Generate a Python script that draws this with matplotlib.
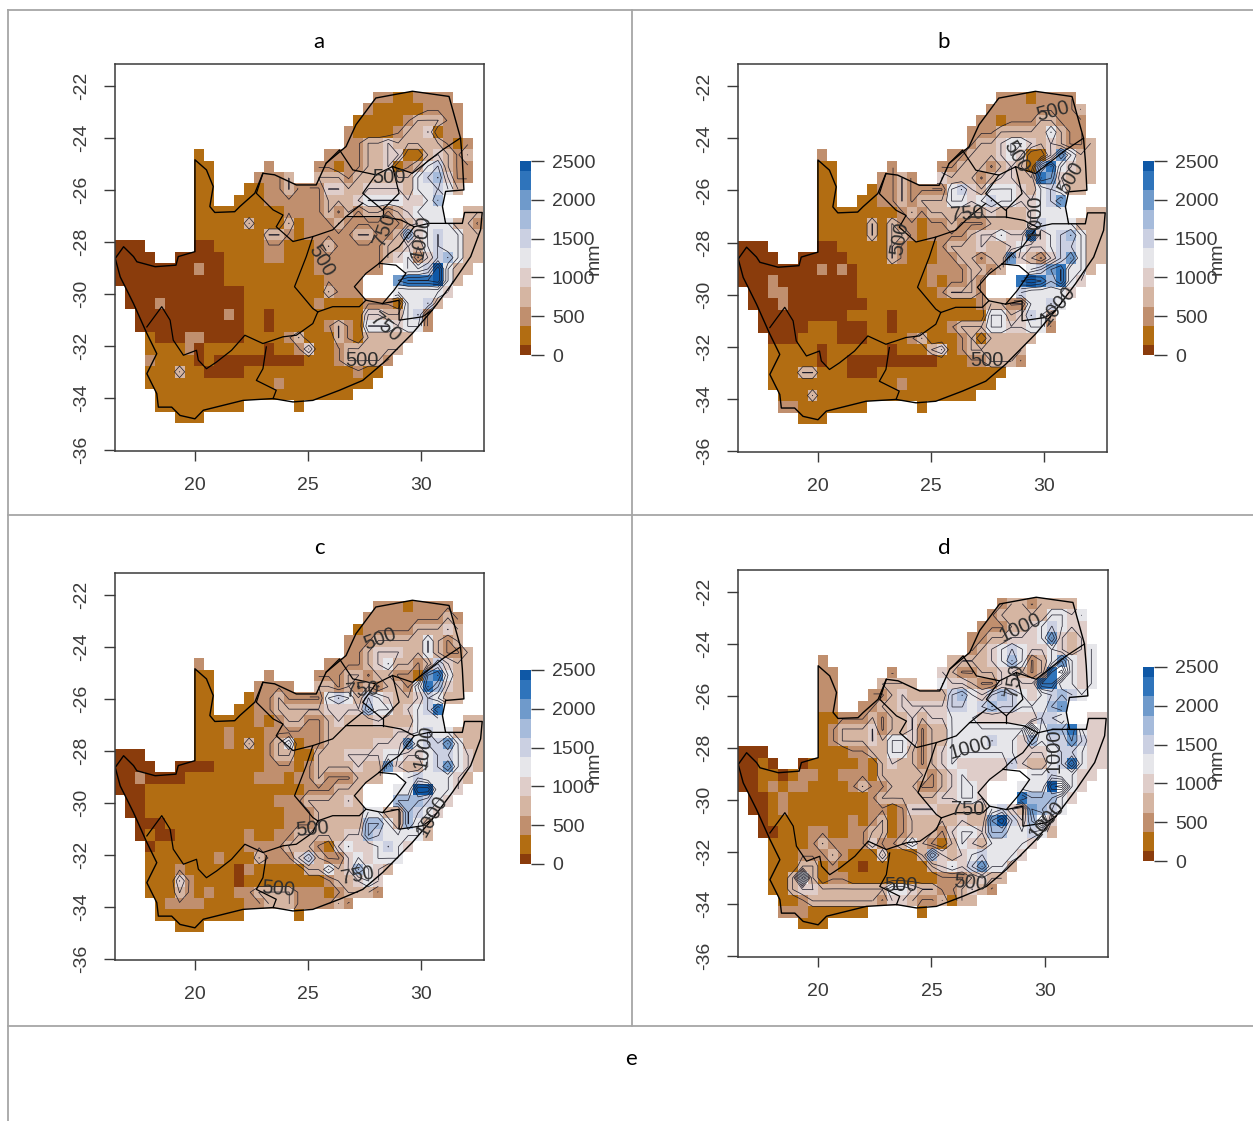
import numpy as np
import matplotlib
matplotlib.use("Agg")
from matplotlib import pyplot as plt
from matplotlib.colors import ListedColormap, BoundaryNorm
from matplotlib.lines import Line2D

W, H = 1253, 1121
plt.rcParams['font.family'] = ['Liberation Sans', 'DejaVu Sans']

# one character per grid cell, 0-9 and A are the colour classes of the legend,
# x is above the scale (drawn white), . is no data
rows_a = [
"..........................22112222",
".........................2111112222",
"........................11111233322",
".......................211112334122",
".......................2233433333212",
"........1............222233441134323",
"........11.....2....2212233412356322",
"........11....2223..3332333333567422",
"........11...1122322244334444355653",
"........11..111222222333455554457",
"........1111111112222323233234555..33",
"........11111311131222322222234555332",
"........11111113321222223322374565533",
"000.....00111112211123222223343565533",
"0000..0000011112211122222223452467533",
"000000002001111111112222222..556A533",
"0000000000011111111112222...8999A53",
".00000000000011111111322 2...555554",
".00020000000011111112111122215563",
"..000000000201101111111114433562",
"..000000000001101111123215554552",
"...100022000011112311132133333",
"...11112011111101124112333333",
"...2111101000000000111233332",
"...111311000011111111111211",
"...11111111111112111111111",
"....11111111111111111111",
"....111111111.....1",
"......111",
]
rows_a[17] = ".0000000000001111111132 22...555554"[:23] + "22...555554"

rows_b = [
"..........................22212222",
".........................2222222223",
"........................22122233222",
".......................222333335322",
".......................2334554343223",
"........2............223334541148533",
"........11.....2....2233323431795433",
"........11....2232..4333234433984333",
"........11...1223222256435554356533",
"........11..112232333554565544568",
"........1111111123233333343334555..33",
"........11111313221223222333346555333",
"........11111313321222234454494567533",
"000.....00111113211123334334544566533",
"0000..0000011113211122332338432468533",
"000000002020111111122223323..5689553",
"0002000000001111111212232...9A97954",
".002200000001111111123332...655554",
".00020000000011111111111233225565",
"..0000000001111011111111155346 53",
"..000001110001101111123335544552",
"...000111100011112311123133333",
"...11111011111101113412333333",
"...1111101100000000011122 3332",
"...111331110001111111111111",
"...11111111111112111111111",
"....11131111111111111111",
"....221111111.....1",
"......111",
]
rows_b = [r.replace(" ", "") for r in rows_b]

rows_c = [
"..........................22212222",
".........................2222222232",
"........................12222233343",
".......................222333335323",
".......................2234443353223",
"........2............222234533236433",
"........11.....2....2223323322189533",
"........11....2222..3323232332597433",
"........11...1223222256536543346533",
"........11..112233333444475534569",
"........1111112123322343334333555..33",
"........11121112222223333333445655333",
"........11121312351223333344485668533",
"000.....11111112331133344445544566543",
"0000..0000111112221233334338433568543",
"002000011111112221223222333..5655543",
"0001111111111111111222333...55AA554",
".0011111111111112223 33343...777654",
".00111111111111112223333355337654",
"..000111111111111222333337753753",
"..010011111112112233333447655553",
"...011111111122223332145445654",
"...11111112111322246322454555",
"...1112111110211111335347543",
"...111421111011111111233454",
"...11132121122333322212 3332",
"....12222111122333222232",
"....111111111.....1",
"......111",
]
rows_c = [r.replace(" ", "") for r in rows_c]

rows_d = [
"..........................23323333",
".........................2333335545",
"........................22233456544",
".......................223344458434",
".......................2345654454345",
"........2............333345752358545",
"........22.....2....432233443239x545",
"........22....3333..5443224444995545",
"........22...2234333367546765456765",
"........22..223344444665676655578",
"........1122232334344555444444665..44",
"........123334233423355555555x5779544",
"........12333435542335555655475668644",
"000.....11122335532345555555444566544",
"0010..0111112134332345444446433569544",
"001101221122213333323454444..5565544",
"0012122111123223332234554...555Ax54",
".001211111111233333344554...977754",
".00121111111122124443333356438765",
"..011111111212312333334338A647x4",
"..001112211223312333245547755653",
"...111123222242235321354355554",
"...11122232111411137434565554",
"...1113312110111111345468553",
"...113x31221111111112223433",
"...11344333333355433223432",
"....11233333332443223133",
"....222111111.....1",
"......111",
]

panel_rows = [rows_a, rows_b, rows_c, rows_d]

class_codes = "0123456789A"
class_mm = [60, 250, 470, 760, 1010, 1260, 1510, 1760, 2010, 2260, 2440]
over_mm = 2620
class_colors = ['#8a3c0c', '#b26d12', '#c08f6e', '#d5b5a2', '#dfcdc9', '#e6e6ea',
                '#cbd0e2', '#a6bbdb', '#6f9acb', '#2f74bb', '#0f58a6']
class_edges = [0, 125, 375, 625, 875, 1125, 1375, 1625, 1875, 2125, 2375, 2500]

cell = 0.44
lon0 = 16.46
lat0 = -22.22

xticks = [20, 25, 30]
yticks = [-22, -24, -26, -28, -30, -32, -34, -36]
bar_ticks = [0, 500, 1000, 1500, 2000, 2500]

# contour label text, lon, lat, rotation
labels_a = [("500", 25.6, -28.7, -60), ("750", 28.4, -27.5, 70), ("1000", 30.0, -27.8, 80),
            ("750", 28.45, -31.3, -40), ("500", 27.4, -32.55, 0), ("500", 28.6, -25.5, 0)]
labels_b = [("500", 30.4, -22.97, 15), ("500", 28.8, -24.7, -60), ("750", 26.6, -26.9, 5),
            ("500", 23.6, -27.85, 80), ("1000", 29.6, -27.0, 90), ("1000", 30.6, -30.4, 50),
            ("500", 27.5, -32.55, 0), ("500", 31.2, -25.5, 60)]
labels_c = [("500", 28.2, -23.7, 20), ("750", 27.4, -25.64, 5), ("1000", 30.15, -27.83, 80),
            ("1000", 30.5, -30.5, 60), ("500", 25.2, -31.0, 5), ("750", 27.2, -32.8, 10),
            ("500", 23.7, -33.3, -5)]
labels_d = [("1000", 28.95, -23.35, 25), ("1000", 26.75, -28.0, 15), ("750", 26.6, -30.37, 0),
            ("1000", 30.4, -28.1, 90), ("1000", 30.1, -30.8, 50), ("500", 26.7, -33.2, -5),
            ("500", 23.66, -33.3, 0), ("750", 28.65, -25.4, 80)]
panel_labels = [labels_a, labels_b, labels_c, labels_d]

# country and province lines, degrees
border_lon = [16.47,16.84,17.28,17.43,18.24,19.16,19.26,20.0,20.0,20.51,20.81,20.66,20.88,21.76,21.99,22.65,
              23.01,23.53,24.49,25.37,25.81,26.69,27.13,28.01,29.63,31.25,31.76,31.84,31.91,31.10,30.96,31.10,
              31.84,31.94,32.72,32.65,32.21,31.40,30.51,29.63,28.31,27.43,26.40,25.22,24.34,23.46,22.13,20.37,
              20.0,19.34,18.97,18.38,18.31,17.87,18.31,17.87,17.28,16.69,16.47]
border_lat = [-28.63,-28.18,-28.56,-28.76,-28.95,-28.89,-28.56,-28.37,-24.83,-25.22,-25.86,-26.63,-26.86,-26.83,-26.63,-26.12,
              -25.35,-25.41,-25.80,-25.80,-24.96,-24.32,-23.48,-22.45,-22.19,-22.39,-23.99,-24.83,-25.99,-26.05,-26.63,-27.28,
              -27.28,-26.86,-26.86,-27.53,-28.56,-29.59,-30.62,-31.52,-32.68,-33.33,-33.71,-34.10,-34.16,-34.03,-34.10,-34.48,
              -34.81,-34.68,-34.36,-34.36,-33.84,-33.07,-32.30,-31.52,-30.37,-29.34,-28.63]
province_lons = [
    [17.87,18.53,18.90,19.04,19.49,20.07,20.15,20.51,20.96,21.62,22.21,23.01,23.90,24.49,25.22,25.44],
    [23.16,23.01,22.72,23.60,23.46],
    [25.44,25.22,24.41,24.93,25.22,26.10,26.69,28.31,29.12,29.71,30.37,31.10],
    [29.71,29.04,28.60,28.16],
    [28.16,28.90,29.34,28.82,28.31,27.57,27.06,27.57,28.16],
    [25.44,26.10,27.28,27.57],
    [28.31,29.04,29.04,30.07,30.51],
    [23.01,22.72,23.46,23.90,23.60,24.34,25.22],
    [25.81,26.40,26.99,28.01,28.75],
    [28.75,29.63,30.96,31.76],
    [28.01,27.43,28.31,29.04,28.75],
    [28.31,28.31],
    [26.69,27.43],
]
province_lats = [
    [-31.27,-30.49,-31.01,-31.78,-32.36,-32.17,-32.55,-32.88,-32.62,-32.17,-31.59,-31.91,-31.65,-31.59,-31.14,-30.69],
    [-32.04,-32.88,-33.33,-33.71,-34.03],
    [-30.69,-30.56,-29.72,-28.56,-27.79,-27.53,-27.02,-27.02,-27.15,-27.41,-27.28,-27.28],
    [-27.41,-28.18,-28.44,-28.82],
    [-28.82,-28.89,-29.21,-29.85,-30.37,-30.24,-29.72,-29.21,-28.82],
    [-30.69,-30.49,-30.49,-30.24],
    [-30.37,-30.24,-31.01,-30.88,-30.62],
    [-25.35,-26.12,-26.76,-26.96,-27.41,-27.98,-27.79],
    [-24.96,-24.45,-25.22,-25.41,-25.09],
    [-25.09,-25.35,-24.45,-23.99],
    [-25.41,-26.12,-26.76,-26.12,-25.09],
    [-26.76,-27.02],
    [-27.02,-26.5],
]

# pixel boxes: left, top, right, bottom
map_boxes = [(115, 64, 484, 451), (738, 64, 1107, 452), (115, 573, 484, 960), (738, 570, 1108, 957)]
bar_boxes = [(520, 161, 531, 355), (1143, 161, 1154, 355), (520, 670, 531, 864), (1143, 667, 1154, 861)]
title_xy = [(319, 42), (944, 42), (319, 548), (944, 548), (631, 1059)]
title_txt = ['a', 'b', 'c', 'd', 'e']
rule_h = [(8, 1253, 10), (8, 1253, 515), (8, 1253, 1026)]
rule_v = [(8, 10, 1121), (632, 10, 1026)]


def px_axes(fig, box):
    l, t, r, b = box
    return fig.add_axes([l / W, 1 - b / H, (r - l) / W, (b - t) / H])


def decode(rows):
    grid = np.full((len(rows), 37), np.nan)
    for j, row in enumerate(rows):
        for i, ch in enumerate(row[:37]):
            if ch == 'x':
                grid[j, i] = over_mm
            elif ch in class_codes:
                grid[j, i] = class_mm[class_codes.index(ch)]
    return grid


cmap = ListedColormap(class_colors)
cmap.set_over('white')
cmap.set_bad((1, 1, 1, 0))
norm = BoundaryNorm(class_edges, cmap.N)
grey = '#3a3a3a'

fig = plt.figure(figsize=(W / 100, H / 100), dpi=100)

for i in range(4):
    ax = px_axes(fig, map_boxes[i])
    grid = np.ma.masked_invalid(decode(panel_rows[i]))
    lon_e = lon0 + cell * np.arange(38)
    lat_e = lat0 - cell * np.arange(30)
    lon_c = lon_e[:-1] + cell / 2
    lat_c = lat_e[:-1] - cell / 2
    ax.pcolormesh(lon_e, lat_e, grid, cmap=cmap, norm=norm, shading='flat')
    ax.contour(lon_c, lat_c, grid, levels=np.arange(500, 2750, 250), colors='#1c1c2a', linewidths=0.5)
    ax.plot(border_lon, border_lat, color='black', lw=1.0)
    for xs, ys in zip(province_lons, province_lats):
        ax.plot(xs, ys, color='black', lw=0.9)
    for txt, x, y, rot in panel_labels[i]:
        ax.text(x, y, txt, fontsize=14.5, color='#2e2e2e', rotation=rot, ha='center', va='center')
    ax.set_xlim(16.46, 32.80)
    ax.set_ylim(-36.05, -21.14)
    ax.set_xticks(xticks)
    ax.set_yticks(yticks)
    ax.set_xticklabels([str(v) for v in xticks])
    ax.set_yticklabels([str(v) for v in yticks], rotation=90, va='center')
    ax.tick_params(axis='x', length=7, width=1, color=grey, labelcolor=grey, labelsize=14, pad=12)
    ax.tick_params(axis='y', length=8, width=1, color=grey, labelcolor=grey, labelsize=14, pad=10)
    for s in ax.spines.values():
        s.set_color(grey)
        s.set_linewidth(1.1)

    bax = px_axes(fig, bar_boxes[i])
    bax.pcolormesh([0, 1], class_edges, np.arange(11).reshape(-1, 1), cmap=cmap,
                   norm=BoundaryNorm(np.arange(-0.5, 11.5), cmap.N))
    bax.set_xticks([])
    bax.set_ylim(0, 2500)
    bax.yaxis.tick_right()
    bax.set_yticks(bar_ticks)
    bax.set_yticklabels([str(v) for v in bar_ticks])
    bax.tick_params(axis='y', length=9, width=1, color=grey, labelcolor=grey, labelsize=14, pad=6)
    for s in bax.spines.values():
        s.set_visible(False)
    fig.text((bar_boxes[i][2] + 63) / W, 1 - (bar_boxes[i][1] + 98) / H, 'mm', rotation=90,
             fontsize=14, color=grey, ha='center', va='center')

for (x0, x1, y) in rule_h:
    fig.add_artist(Line2D([x0 / W, x1 / W], [1 - y / H, 1 - y / H], color='#a6a6a6', lw=1.3))
for (x, y0, y1) in rule_v:
    fig.add_artist(Line2D([x / W, x / W], [1 - y0 / H, 1 - y1 / H], color='#a6a6a6', lw=1.3))

for (x, y), t in zip(title_xy, title_txt):
    fig.text(x / W, 1 - y / H, t, fontsize=16, family='Lato', color='black', ha='center', va='center')

fig.savefig('out.png', dpi=100)
